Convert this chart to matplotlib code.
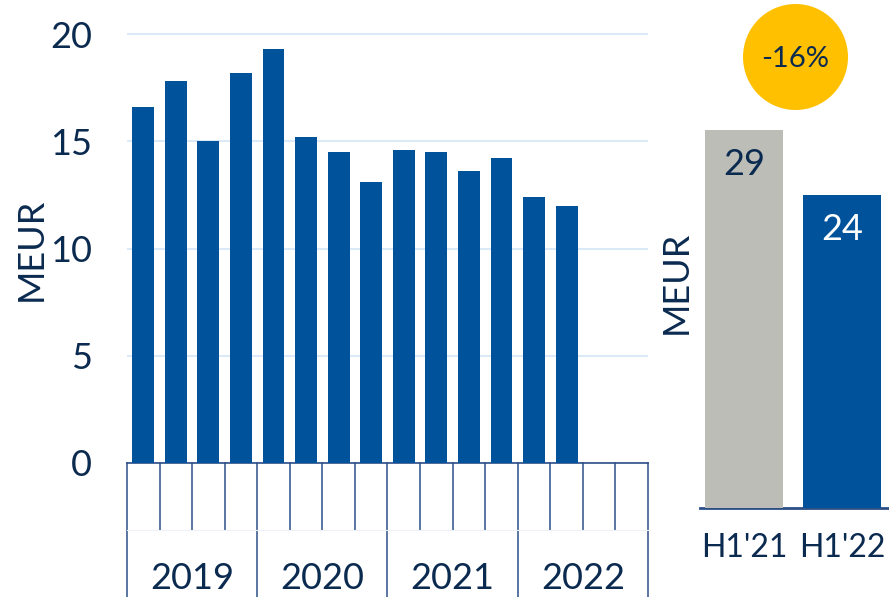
import matplotlib.pyplot as plt
from matplotlib.patches import Ellipse

plt.rcParams['font.family'] = ['Lato', 'DejaVu Sans']

NAVY = '#0b2a4f'
BLUE = '#00539b'
GREY = '#bdbdb7'
GRID = '#dce9f8'
LINE = '#2c4f86'
GOLD = '#ffc000'
FS = 26

# quarterly figures, 2019 Q1 .. 2022 Q2 (16 slots, last two empty)
quarters = list(range(16))
values = [16.6, 17.8, 15.0, 18.2, 19.3, 15.2, 14.5, 13.1,
          14.6, 14.5, 13.6, 14.2, 12.4, 12.0]
years = ['2019', '2020', '2021', '2022']
yticks = [0, 5, 10, 15, 20]

# half-year comparison
halves = ["H1'21", "H1'22"]
half_values = [29, 24]
half_colors = [GREY, BLUE]
change_label = '-16%'

W, H = 889, 597
fig = plt.figure(figsize=(W / 100, H / 100), dpi=100)

def box(x0, y0, x1, y1):
    # pixel box (top-left origin) -> figure fraction rect
    return [x0 / W, 1 - y1 / H, (x1 - x0) / W, (y1 - y0) / H]

# --- quarterly bars ---
ax = fig.add_axes(box(127, 463 - 21 * 21.45, 648, 463))
ax.bar(quarters[:len(values)], values, width=0.67, color=BLUE, zorder=3)
ax.set_xlim(-0.5, 15.5)
ax.set_ylim(0, 21)
ax.set_yticks(yticks)
ax.set_yticklabels([str(v) for v in yticks])
ax.yaxis.grid(True, color=GRID, linewidth=1.5, zorder=0)
ax.tick_params(axis='y', length=0, pad=25, labelsize=FS, labelcolor=NAVY)
ax.set_xticks([])
for s in ['top', 'right', 'left']:
    ax.spines[s].set_visible(False)
ax.spines['bottom'].set_color(LINE)
ax.spines['bottom'].set_linewidth(1.2)
fig.text(31 / W, 1 - 249 / H, 'MEUR', rotation=90, ha='center',
         va='center', fontsize=FS, color=NAVY)

# --- category table under the bars ---
tb = fig.add_axes(box(127, 463, 648, 597))
tb.set_xlim(-0.5, 15.5)
tb.set_ylim(0, 1)
tb.axis('off')
for k in range(17):
    xb = k - 0.5
    if k % 4 == 0:
        tb.plot([xb, xb], [0, 1], color=LINE, lw=1.1, clip_on=False)
    else:
        tb.plot([xb, xb], [0.5, 1], color=LINE, lw=1.1, clip_on=False)
tb.plot([-0.5, 15.5], [0.5, 0.5], color='#eef2f8', lw=0.8, clip_on=False)
for i, y in enumerate(years):
    tb.text(i * 4 + 1.5, 0.14, y, ha='center', va='center',
            fontsize=FS, color=NAVY)

# --- half-year bars ---
ax2 = fig.add_axes(box(700, 0, 889, 508))
ax2.bar([0, 1], half_values, width=0.8, color=half_colors, zorder=3)
ax2.set_xlim(-0.449, 1.48)
ax2.set_ylim(0, 39)
for s in ['top', 'right', 'left']:
    ax2.spines[s].set_visible(False)
ax2.spines['bottom'].set_color(LINE)
ax2.spines['bottom'].set_linewidth(2)
ax2.set_yticks([])
ax2.set_xticks([0, 1])
ax2.set_xticklabels(halves)
ax2.tick_params(axis='x', length=0, pad=18, labelsize=23, labelcolor=NAVY)
for i, v in enumerate(half_values):
    ax2.text(i, v - 2.6, str(v), ha='center', va='center', fontsize=FS,
             color=NAVY if i == 0 else 'white')
fig.text(676 / W, 1 - 282 / H, 'MEUR', rotation=90, ha='center',
         va='center', fontsize=FS, color=NAVY)

# change bubble
fig.add_artist(Ellipse((795.5 / W, 1 - 57 / H), 105 / W, 106 / H,
                       transform=fig.transFigure, color=GOLD, lw=0))
fig.text(795.5 / W, 1 - 59 / H, change_label, ha='center', va='center',
         fontsize=21, color=NAVY)

fig.savefig('out.png', dpi=100)
